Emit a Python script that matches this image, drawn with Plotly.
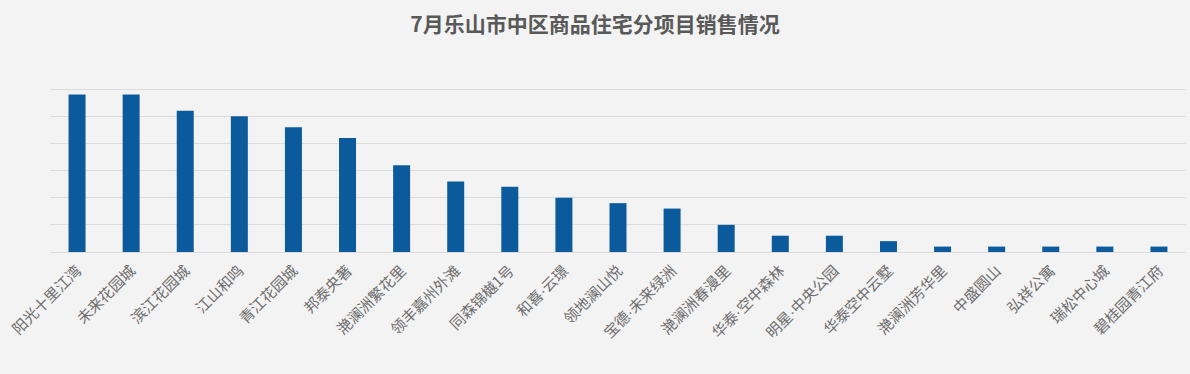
import plotly.graph_objects as go

projects = ["阳光十里江湾", "未来花园城", "滨江花园城", "江山和鸣", "青江花园城", "邦泰央著",
            "滟澜洲繁花里", "领丰嘉州外滩", "同森锦樾1号", "和喜·云璟", "领地澜山悦", "宝德·未来绿洲",
            "滟澜洲春漫里", "华泰·空中森林", "明星·中央公园", "华泰空中云墅", "滟澜洲芳华里",
            "中盛圆山", "弘祥公寓", "瑞松中心城", "碧桂园青江府"]
sales = [58, 58, 52, 50, 46, 42, 32, 26, 24, 20, 18, 16, 10, 6, 6, 4, 2, 2, 2, 2, 2]
title_text = "7月乐山市中区商品住宅分项目销售情况"

FONT = "Noto Sans CJK SC"

# narrow (Latin) middle dot, as in the original labels
tick_text = [p.replace("·", "<span style='font-family:Liberation Sans'>·</span>") for p in projects]

fig = go.Figure(go.Bar(x=projects, y=sales, marker=dict(color="#0a5a9c", line=dict(width=0)),
                       hoverinfo="x+y"))

fig.update_layout(
    width=1190, height=374,
    margin=dict(l=50, r=4, t=62, b=122),
    paper_bgcolor="#f3f3f3", plot_bgcolor="rgba(0,0,0,0)",
    bargap=0.686,
    showlegend=False,
    font=dict(family=FONT, color="#6e6e6e"),
    title=dict(text="<b>" + title_text + "</b>", x=0.5, xanchor="center", y=1 - 25 / 374, yanchor="middle",
               font=dict(family=FONT, size=21, color="#595959")),
)
fig.update_xaxes(tickangle=-45, tickfont=dict(size=15, color="#6e6e6e", family=FONT),
                 tickmode="array", tickvals=projects, ticktext=tick_text,
                 ticklabelstandoff=6,
                 showgrid=False, showline=False, ticks="", zeroline=False)
fig.update_yaxes(range=[0, 70], dtick=10, showticklabels=False, showgrid=True,
                 gridcolor="#dcdcdc", gridwidth=1, zeroline=True, zerolinecolor="#dcdcdc",
                 zerolinewidth=1, showline=False, ticks="")

fig.write_html("out.html")
